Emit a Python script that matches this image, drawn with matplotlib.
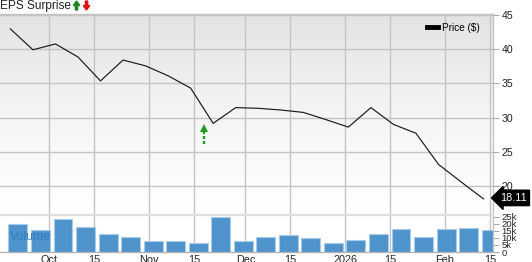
import matplotlib
matplotlib.use("Agg")
import matplotlib.pyplot as plt
import matplotlib.dates as mdates
from matplotlib.patches import FancyArrow
from matplotlib.lines import Line2D
from matplotlib.colors import LinearSegmentedColormap
import numpy as np
import pandas as pd

# ---------------- data ----------------
dates = ["2025-09-19", "2025-09-26", "2025-10-03", "2025-10-10", "2025-10-17",
         "2025-10-24", "2025-10-31", "2025-11-07", "2025-11-14", "2025-11-21",
         "2025-11-28", "2025-12-05", "2025-12-12", "2025-12-19", "2025-12-26",
         "2026-01-02", "2026-01-09", "2026-01-16", "2026-01-23", "2026-01-30",
         "2026-02-06", "2026-02-13"]
price = [42.95, 39.9, 40.75, 38.85, 35.35, 38.4, 37.55, 36.1, 34.3, 29.15,
         31.45, 31.35, 31.1, 30.75, 29.7, 28.6, 31.45, 29.0, 27.7, 23.15,
         20.6, 18.11]
volume = [20100, 16000, 23300, 17900, 13000, 10800, 8100, 7900, 6200, 24800,
          7600, 11000, 12000, 10300, 6600, 8600, 13000, 16200, 10600, 16500,
          16900, 16000]
eps_date = "2025-11-18"
eps_arrow = [26.1, 29.0]   # dashed arrow from / to (price units)

tick_dates = ["2025-10-01", "2025-10-15", "2025-11-01", "2025-11-15", "2025-12-01",
              "2025-12-15", "2026-01-01", "2026-01-15", "2026-02-01", "2026-02-15"]
tick_labels = ["Oct", "15", "Nov", "15", "Dec", "15", "2026", "15", "Feb", "15"]
price_ticks = [20, 25, 30, 35, 40, 45]
vol_ticks = [0, 5000, 10000, 15000, 20000, 25000]
vol_tick_labels = ["0", "5k", "10k", "15k", "20k", "25k"]

# ---------------- style ----------------
plt.rcParams['font.family'] = ['Liberation Sans', 'DejaVu Sans']
W, H = 532, 262
fig = plt.figure(figsize=(W / 100, H / 100), dpi=100)
fig.patch.set_facecolor('white')

def fx(px):
    return px / W

def fy(py):
    return (H - py) / H

x = mdates.date2num(pd.to_datetime(dates))
xt = mdates.date2num(pd.to_datetime(tick_dates))
xe = mdates.date2num(pd.to_datetime(eps_date))
x0 = mdates.date2num(pd.Timestamp("2025-10-01"))
ppd = 3.219  # pixels per day
xlim = (x0 - 49 / ppd, x0 + (493 - 49) / ppd)
ylim = (15.76, 45.2)

grid_c = '#c4c4c4'
axis_left, axis_right = 0, 493
ax = fig.add_axes([fx(axis_left), fy(215), fx(axis_right - axis_left), fy(13.5) - fy(215)])
axv = fig.add_axes([fx(axis_left), fy(252), fx(axis_right - axis_left), fy(215) - fy(252)])

# price panel
ax.set_xlim(*xlim)
ax.set_ylim(*ylim)
grad = np.linspace(0, 1, 256).reshape(-1, 1)
cmap = LinearSegmentedColormap.from_list('g', ['#e3e3e3', '#f5f5f5', '#ffffff'])
ax.imshow(grad, aspect='auto', cmap=cmap, origin='upper',
          extent=[xlim[0], xlim[1], ylim[0], ylim[1]],
          zorder=0, interpolation='bilinear')
ax.set_xlim(*xlim)
ax.set_ylim(*ylim)
ax.set_yticks(price_ticks)
ax.set_xticks(xt)
ax.set_axisbelow(False)
ax.grid(True, color=grid_c, lw=1.0, zorder=1)
ax.tick_params(axis='x', which='both', length=0, labelbottom=False)
ax.plot(x, price, color='#1a1a1a', lw=0.85, zorder=3)

ax.yaxis.tick_right()
ax.set_yticklabels([str(v) for v in price_ticks])
ax.tick_params(axis='y', length=4.5, width=0.6, color='#999999', pad=1.5,
               labelsize=7.6, labelcolor='#222222')
for s in ['left', 'bottom']:
    ax.spines[s].set_visible(False)
ax.spines['top'].set_color(grid_c)
ax.spines['top'].set_linewidth(1.0)
ax.spines['right'].set_color(grid_c)
ax.spines['right'].set_linewidth(1.0)

# EPS surprise arrow (dashed shaft + solid head)
ax.plot([xe, xe], [eps_arrow[0], eps_arrow[1] - 1.05], color='#1e9a1e', lw=1.7,
        ls=(0, (1.3, 0.8)), zorder=4)
ax.plot([xe], [eps_arrow[1] - 0.55], marker='^', ms=6.0, color='#1e9a1e',
        markeredgewidth=0, zorder=4)

# legend
h = Line2D([], [], color='black', lw=3.5)
leg = ax.legend([h], ['Price ($)'], loc='upper right', frameon=False,
                fontsize=7.2, handlelength=1.1, handletextpad=0.4,
                borderaxespad=0.0, bbox_to_anchor=(0.982, 0.975))

# last price label
ax.annotate(f"{price[-1]:.2f}", xy=(1, price[-1]), xycoords=('axes fraction', 'data'),
            xytext=(7, 1), textcoords='offset pixels', ha='left', va='center',
            color='white', fontsize=7.8, annotation_clip=False,
            bbox=dict(boxstyle='larrow,pad=0.25', fc='black', ec='black'), zorder=6)

# volume panel
axv.set_xlim(*xlim)
axv.set_ylim(0, 26400)
axv.set_facecolor('white')
axv.set_xticks(xt)
axv.set_axisbelow(True)
axv.grid(True, axis='x', color=grid_c, lw=1.0)
axv.bar(x - 0.6, volume, width=5.9, align='edge', color='#4f93cc',
        edgecolor='#a9cbea', linewidth=0.8, zorder=2)
axv.text(xlim[0] + 10 / ppd, 10500, 'Volume', color='#2f7bc0', fontsize=8.8,
         va='center', ha='left', zorder=3, alpha=0.95)
axv.yaxis.tick_right()
axv.set_yticks(vol_ticks)
axv.set_yticklabels(vol_tick_labels)
axv.tick_params(axis='y', length=4.5, width=0.6, color='#999999', pad=1.5,
                labelsize=6.8, labelcolor='#222222')
axv.set_xticklabels(tick_labels)
axv.tick_params(axis='x', length=0, pad=2.2, labelsize=7.8, labelcolor='#222222')
axv.spines['left'].set_visible(False)
axv.spines['top'].set_color('#dedede')
axv.spines['top'].set_linewidth(1.6)
axv.spines['right'].set_color(grid_c)
axv.spines['right'].set_linewidth(1.0)
axv.spines['bottom'].set_color('#b0b0b0')
axv.spines['bottom'].set_linewidth(0.9)

# header
fig.text(fx(0), fy(5.5), 'EPS Surprise', fontsize=8.6, color='#222222',
         ha='left', va='center')
fig.add_artist(FancyArrow(fx(76.5), fy(10), 0, fy(1) - fy(10), width=fx(2.2),
                          head_width=fx(6.5), head_length=fy(0) - fy(4.5),
                          length_includes_head=True, color='#1e8a1e',
                          transform=fig.transFigure))
fig.add_artist(FancyArrow(fx(86.5), fy(1), 0, fy(10) - fy(1), width=fx(2.2),
                          head_width=fx(6.5), head_length=fy(0) - fy(4.5),
                          length_includes_head=True, color='#e01010',
                          transform=fig.transFigure))

fig.savefig('out.png', dpi=100)
